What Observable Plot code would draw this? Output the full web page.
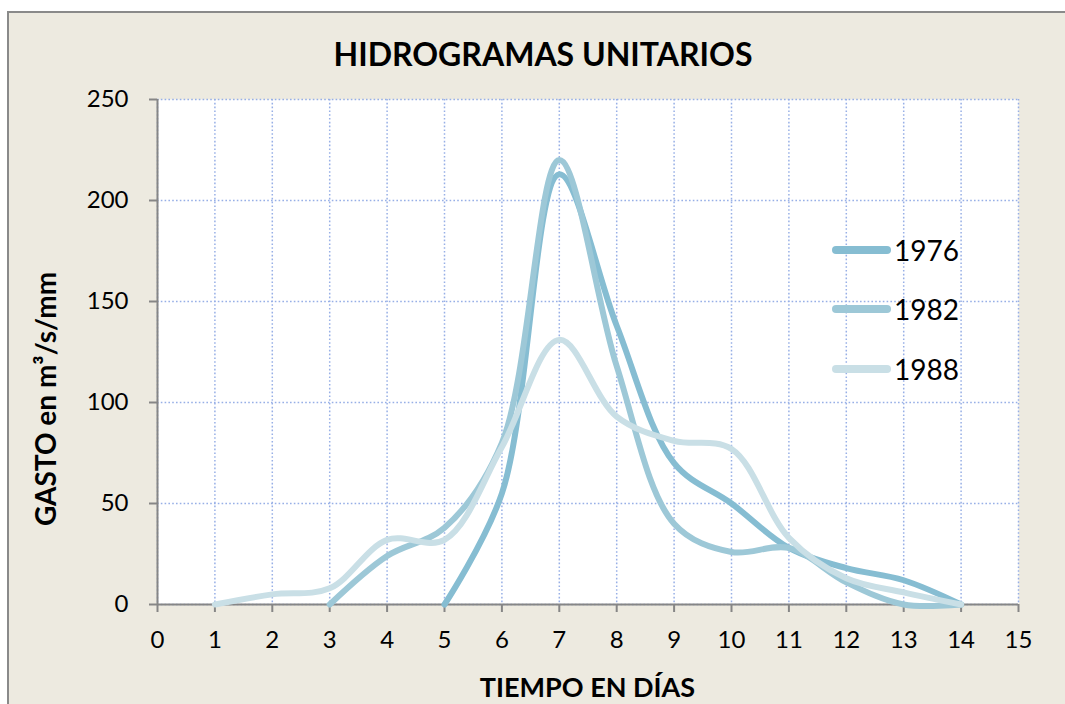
<!DOCTYPE html>
<html>
<head>
<meta charset="utf-8">
<script src="https://cdn.jsdelivr.net/npm/d3@7"></script>
<script src="https://cdn.jsdelivr.net/npm/@observablehq/plot@0.6"></script>
<style>
  html, body { margin: 0; padding: 0; background: #ffffff; }
  #wrap { position: relative; width: 1065px; height: 704px; overflow: hidden; background: #ffffff; font-family: Lato, "Open Sans", sans-serif; }
  #panel { position: absolute; left: 7px; top: 11px; width: 1100px; height: 720px; background: #EDEAE0; border-left: 2px solid #8a8a8a; border-top: 2px solid #8a8a8a; box-sizing: border-box; }
  #chart { position: absolute; left: 0; top: 0; }
  .lbl { position: absolute; font-weight: bold; color: #000; white-space: nowrap; }
  #title { left: 0; width: 1086px; top: 34px; text-align: center; font-size: 32px; }
  #xlab { left: 0; width: 1175px; top: 670px; text-align: center; font-size: 27px; }
  #ylab { left: 45px; top: 399px; font-size: 28px; transform: translate(-50%, -50%) rotate(-90deg); }
  .leg { position: absolute; left: 830px; font-size: 28px; display: flex; align-items: center; }
  .leg span { margin-left: 2px; }
</style>
</head>
<body>
<div id="wrap">
  <div id="panel"></div>
  <div id="chart"></div>
  <div class="lbl" id="title">HIDROGRAMAS UNITARIOS</div>
  <div class="lbl" id="ylab">GASTO en m³/s/mm</div>
  <div class="lbl" id="xlab">TIEMPO EN DÍAS</div>
  <div id="legend"></div>
</div>
<script>
// ---- data ----
const series = ["1976", "1982", "1988"];
const colors = ["#86BDD2", "#9DC8D7", "#C9DFE6"];
const days1976 = [5, 6, 7, 8, 9, 10, 11, 12, 13, 14];
const q1976    = [0, 55, 213, 138, 70, 50, 28, 18, 12, 0];
const days1982 = [3, 4, 5, 6, 7, 8, 9, 10, 11, 12, 13, 14];
const q1982    = [0, 24, 38, 80, 220, 118, 40, 26, 28, 11, 0, 0];
const days1988 = [1, 2, 3, 4, 5, 6, 7, 8, 9, 10, 11, 12, 13, 14];
const q1988    = [0, 5, 8, 32, 32, 78, 131, 93, 81, 77, 33, 13, 6, 0];
const xTicks = [0, 1, 2, 3, 4, 5, 6, 7, 8, 9, 10, 11, 12, 13, 14, 15];
const yTicks = [0, 50, 100, 150, 200, 250];

const rows = [];
[[days1976, q1976, "1976"], [days1982, q1982, "1982"], [days1988, q1988, "1988"]].forEach(([d, q, s]) => {
  d.forEach((x, i) => rows.push({dia: x, gasto: q[i], serie: s}));
});

const gridStyle = {stroke: "#97AFE6", strokeOpacity: 1, strokeWidth: 1.5, strokeDasharray: "1.6,2.2"};

const chart = Plot.plot({
  width: 1065,
  height: 704,
  marginLeft: 157,
  marginRight: 47,
  marginTop: 99,
  marginBottom: 100,
  style: {background: "transparent", fontFamily: "Lato, 'Open Sans', sans-serif", fontSize: "24px", color: "#000"},
  x: {domain: [0, 15], ticks: xTicks},
  y: {domain: [0, 250], ticks: yTicks},
  color: {domain: series, range: colors},
  marks: [
    Plot.frame({fill: "white", stroke: null}),
    Plot.gridX(xTicks, {...gridStyle}),
    Plot.gridY(yTicks, {...gridStyle}),
    Plot.ruleX([0], {stroke: "#868686", strokeWidth: 2}),
    Plot.ruleY([0], {stroke: "#868686", strokeWidth: 2}),
    Plot.axisX({ticks: xTicks, tickSize: 8, tickPadding: 18, stroke: "#868686", strokeWidth: 2, fill: "#000", fontSize: 24, label: null, tickFormat: d => String(d)}),
    Plot.axisY({ticks: yTicks, tickSize: 8, tickPadding: 21, stroke: "#868686", strokeWidth: 2, fill: "#000", fontSize: 24, label: null, tickFormat: d => String(d)}),
    Plot.line(rows, {x: "dia", y: "gasto", z: "serie", stroke: "serie", strokeWidth: 6, strokeLinecap: "round", strokeLinejoin: "round", curve: "catmull-rom"})
  ]
});
document.getElementById("chart").appendChild(chart);

// ---- legend ----
const legendTops = [250, 309, 369];
const legend = document.getElementById("legend");
series.forEach((s, i) => {
  const el = document.createElement("div");
  el.className = "leg";
  el.style.top = (legendTops[i] - 17) + "px";
  el.innerHTML = `<svg width="62" height="34"><line x1="6" y1="17" x2="57" y2="17" stroke="${colors[i]}" stroke-width="8" stroke-linecap="round"/></svg><span>${s}</span>`;
  legend.appendChild(el);
});
</script>
</body>
</html>
